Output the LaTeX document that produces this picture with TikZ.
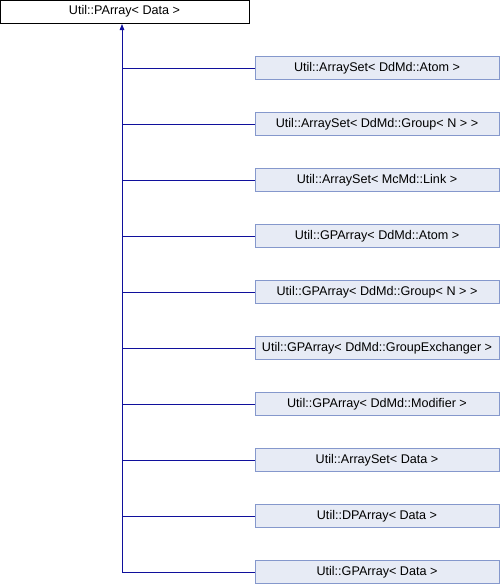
\documentclass[tikz,border=0pt]{standalone}
\usepackage{fontspec}
\setmainfont{Liberation Sans}
\usetikzlibrary{arrows.meta}
\definecolor{edgeblue}{HTML}{10109C}
\definecolor{boxfill}{HTML}{E7EBF5}
\definecolor{boxline}{HTML}{8598CC}
\tikzset{
  base/.style={draw=black, fill=white, line width=0.8pt, minimum width=249pt, minimum height=23pt, inner sep=0pt, font=\fontsize{12.6}{14}\selectfont},
  derived/.style={draw=boxline, fill=boxfill, line width=0.8pt, minimum width=244pt, minimum height=23pt, inner sep=0pt, font=\fontsize{12.6}{14}\selectfont},
  conn/.style={draw=edgeblue, line width=0.8pt},
}
\begin{document}
\begin{tikzpicture}[x=1pt,y=-1pt]
\useasboundingbox (0,0) rectangle (500,584);
\node[base] (p) at (124.5,11.5) {Util::PArray< Data >};
\node[derived] (c1) at (377,68) {Util::ArraySet< DdMd::Atom >};
\node[derived] (c2) at (377,124) {Util::ArraySet< DdMd::Group< N > >};
\node[derived] (c3) at (377,180) {Util::ArraySet< McMd::Link >};
\node[derived] (c4) at (377,236) {Util::GPArray< DdMd::Atom >};
\node[derived] (c5) at (377,292) {Util::GPArray< DdMd::Group< N > >};
\node[derived] (c6) at (377,348) {Util::GPArray< DdMd::GroupExchanger >};
\node[derived] (c7) at (377,404) {Util::GPArray< DdMd::Modifier >};
\node[derived] (c8) at (377,460) {Util::ArraySet< Data >};
\node[derived] (c9) at (377,516) {Util::DPArray< Data >};
\node[derived] (c10) at (377,572) {Util::GPArray< Data >};
\coordinate (trunk) at (122,572);
\draw[conn, -{Triangle[width=4.5pt,length=6pt]}] (trunk) -- (122,24) coordinate (tip);
\foreach \i in {1,...,10} {
  \draw[conn] (122,0 |- c\i.west) -- (c\i.west);
}
\end{tikzpicture}
\end{document}
